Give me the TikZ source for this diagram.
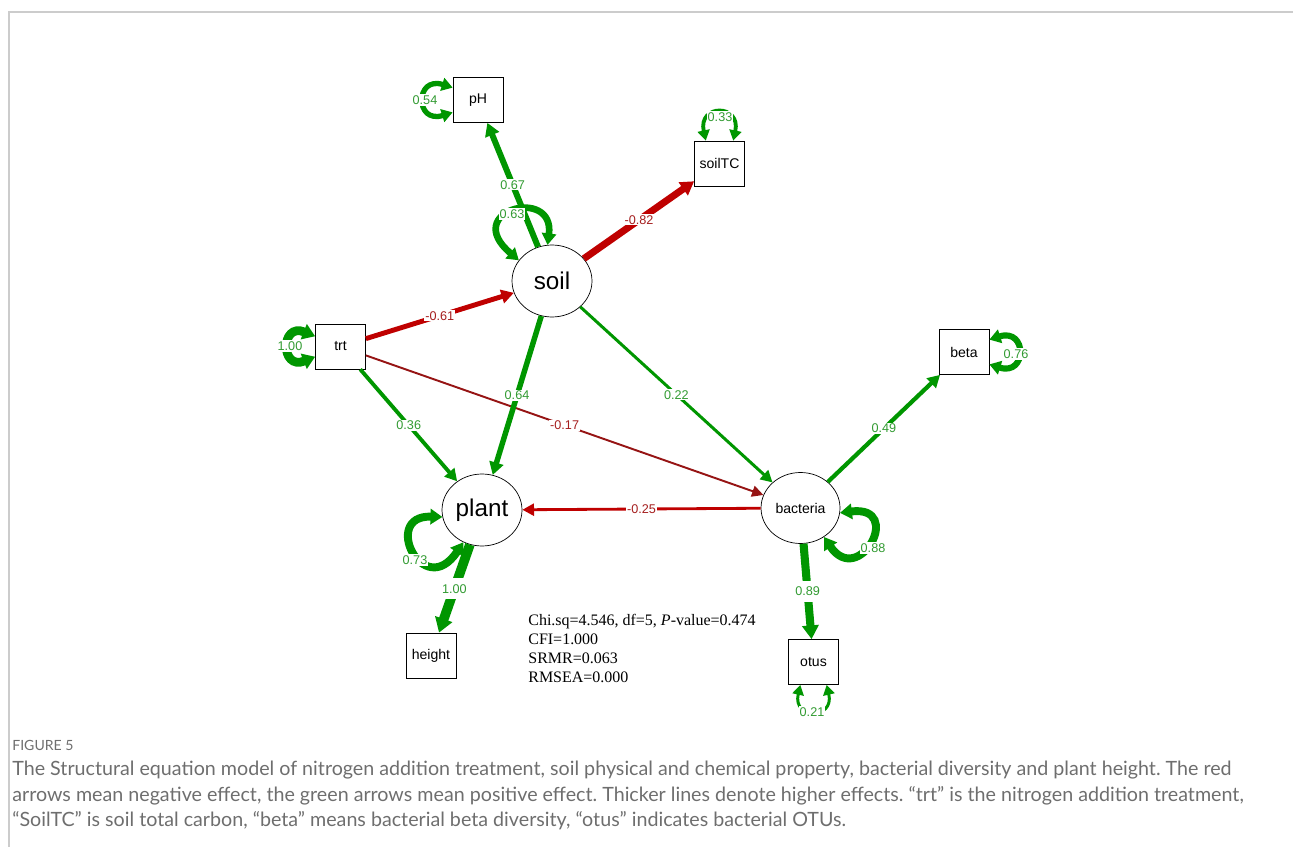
\documentclass[tikz,border=0pt]{standalone}
\usepackage{fontspec}
\setmainfont{Liberation Serif}
\newfontfamily\semfont{Liberation Sans}
\newfontfamily\capfont{Lato}
\usetikzlibrary{shapes.geometric,arrows.meta}
\definecolor{semgreen}{RGB}{0,150,0}
\definecolor{semred}{RGB}{191,0,0}
\definecolor{semdark}{RGB}{150,20,20}
\definecolor{lblgreen}{RGB}{50,155,50}
\definecolor{lblred}{RGB}{165,30,30}
\definecolor{capgray}{RGB}{110,110,110}
\frenchspacing

\begin{document}
\begin{tikzpicture}[x=0.02cm, y=-0.02cm,
  obs/.style={draw, thin, minimum width=1cm, minimum height=0.9cm, inner sep=0pt, font=\semfont\fontsize{8}{9}\selectfont},
  lat/.style={draw, thin, ellipse, minimum width=1.6cm, minimum height=1.44cm, inner sep=0pt},
  arr/.style={arrows={-Triangle[length=6pt 0.4, width=5.5pt 0.8]}},
  dbl/.style={arrows={Triangle[length=5pt 0.4, width=5pt 0.8]-Triangle[length=5pt 0.4, width=5pt 0.8]}},
  plbl/.style={fill=white, inner sep=0.6pt, text=lblgreen, font=\semfont\fontsize{7.2}{8}\selectfont},
  nlbl/.style={plbl, text=lblred},
  gap/.style={inner ysep=3.5pt}]
\useasboundingbox (0,0) rectangle (1293,847);
\draw[gray!40, line width=0.9pt] (9,847) -- (9,12) -- (1293,12);

\node[obs] (ph) at (478,100) {pH};
\node[obs] (soiltc) at (719.5,163.5) {soilTC};
\node[obs] (trt) at (340.5,346.5) {trt};
\node[obs] (beta) at (964,352) {beta};
\node[obs] (height) at (431,655.5) {height};
\node[obs] (otus) at (813.5,662) {otus};
\node[lat, font=\semfont\fontsize{13.8}{15}\selectfont] (soil) at (552,281) {soil};
\node[lat, font=\semfont\fontsize{13.8}{15}\selectfont] (plant) at (482,510) {plant};
\node[lat, font=\semfont\fontsize{8}{9}\selectfont, minimum width=1.58cm, minimum height=1.42cm] (bact) at (800.5,508) {bacteria};

\draw[arr, semgreen, line width=3.4pt] (soil) -- node[plbl] (l-ph) {0.67} (ph);
\draw[arr, semred, line width=4pt] (soil) -- node[nlbl] (l-soiltc) {-0.82} (soiltc);
\draw[arr, semred, line width=2.8pt] (trt) -- node[nlbl] (l-trt-soil) {-0.61} (soil);
\draw[arr, semdark, line width=1.1pt] (trt) -- node[nlbl] (l-trt-bact) {-0.17} (bact);
\draw[arr, semgreen, line width=2.2pt] (trt) -- node[plbl] (l-trt-plant) {0.36} (plant);
\draw[arr, semgreen, line width=3.1pt] (soil) -- node[plbl] (l-soil-plant) {0.64} (plant);
\draw[arr, semgreen, line width=1.7pt] (soil) -- node[plbl] (l-soil-bact) {0.22} (bact);
\draw[arr, semred, line width=1.6pt] (bact) -- node[nlbl] (l-bact-plant) {-0.25} (plant);
\draw[arr, semgreen, line width=2.4pt] (bact) -- node[plbl] (l-beta) {0.49} (beta);
\draw[arr, semgreen, line width=4.6pt] (bact) -- node[plbl, gap] (l-otus) {0.89} (otus);
\draw[arr, semgreen, line width=5.5pt] (plant) -- node[plbl, gap] (l-height) {1.00} (height);

\draw[dbl, semgreen, line width=3.8pt] (soil.148) .. controls +(-59,-50) and +(7.5,-59) .. (soil.97);
\node[plbl] (v-soil) at (512,214) {0.63};
\draw[dbl, semgreen, line width=3pt] (ph.154) .. controls +(-38,-12) and +(-38,12) .. (ph.206);
\node[plbl] (v-ph) at (425,100) {0.54};
\draw[dbl, semgreen, line width=2.2pt] (soiltc.121) .. controls +(-8,-37) and +(8,-37) .. (soiltc.59);
\node[plbl] (v-soiltc) at (720,117) {0.33};
\draw[dbl, semgreen, line width=5pt] (trt.158) .. controls +(-35,-14) and +(-35,14) .. (trt.202);
\node[plbl] (v-trt) at (290,346) {1.00};
\draw[dbl, semgreen, line width=3.5pt] (beta.26) .. controls +(38,-12) and +(38,12) .. (beta.334);
\node[plbl] (v-beta) at (1016,354) {0.76};
\draw[dbl, semgreen, line width=1.7pt] (otus.240) .. controls +(-8,35) and +(8,35) .. (otus.300);
\node[plbl] (v-otus) at (812,712) {0.21};
\draw[dbl, semgreen, line width=4.5pt] (plant.190) .. controls +(-62,-2) and +(-40,60) .. (plant.240);
\node[plbl] (v-plant) at (415,560) {0.73};
\draw[dbl, semgreen, line width=4.5pt] (bact.353) .. controls +(65,-8) and +(35,52) .. (bact.309);
\node[plbl] (v-bact) at (873,548) {0.88};

\node[anchor=north west, align=left, inner sep=0pt, font=\fontsize{9.1}{10.8}\selectfont] (fit) at (528,614)
  {Chi.sq=4.546, df=5, \textit{P}-value=0.474\\CFI=1.000\\SRMR=0.063\\RMSEA=0.000};

\node[anchor=west, inner sep=0pt, text=capgray, font=\capfont\fontsize{8}{9}\selectfont] (fig) at (12,745) {FIGURE 5};
\node[anchor=north west, align=left, inner sep=0pt, text=capgray, font=\capfont\fontsize{11.2}{14.5}\selectfont] (cap) at (12,761)
  {The Structural equation model of nitrogen addition treatment, soil physical and chemical property, bacterial diversity and plant height. The red\\
   arrows mean negative effect, the green arrows mean positive effect. Thicker lines denote higher effects. “trt” is the nitrogen addition treatment,\\
   “SoilTC” is soil total carbon, “beta” means bacterial beta diversity, “otus” indicates bacterial OTUs.};
\end{tikzpicture}
\end{document}
